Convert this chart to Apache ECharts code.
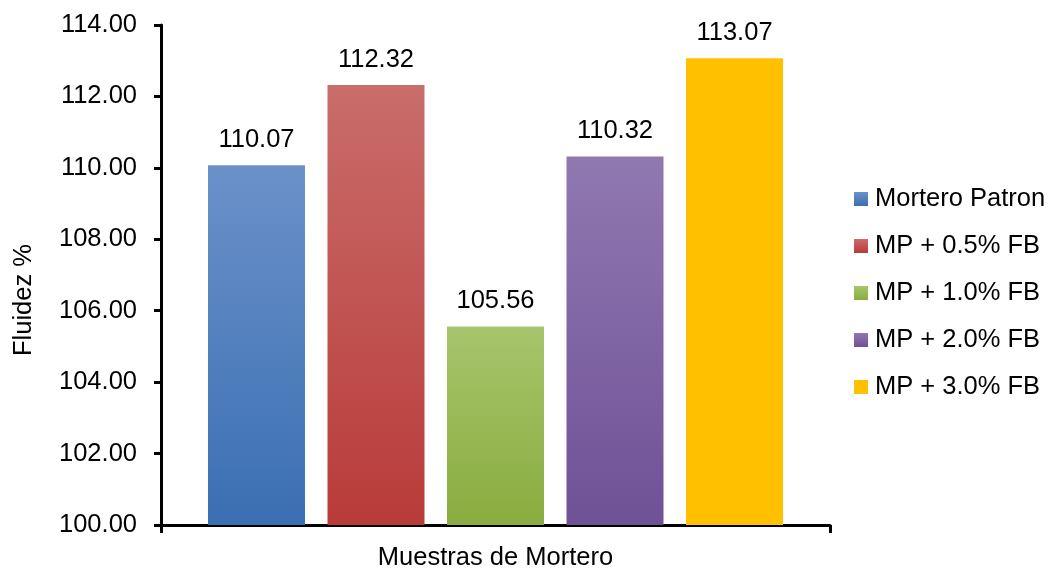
<!DOCTYPE html>
<html><head><meta charset="utf-8">
<script src="https://cdn.jsdelivr.net/npm/echarts@6/dist/echarts.min.js"></script>
<style>html,body{margin:0;padding:0;background:#fff}#c{width:1053px;height:569px}</style>
</head><body><div id="c"></div>
<script>
var categories = [''];
var seriesNames = ['Mortero Patron','MP + 0.5% FB','MP + 1.0% FB','MP + 2.0% FB','MP + 3.0% FB'];
var seriesValues = [110.07, 112.32, 105.56, 110.32, 113.07];
var yTicks = [100,102,104,106,108,110,112,114];
var topColors = ['#6b91c9','#c96d6b','#a7c56c','#9078b1','#ffc000'];
var bottomColors = ['#3a6fb3','#b83b39','#89ac3f','#6f5196','#ffc000'];
var font = 'Liberation Sans, Arial, sans-serif';
var fs = 25.5;
var chart = echarts.init(document.getElementById('c'));
var series = seriesNames.map(function(n,i){
  return {
    name:n, type:'bar', data:[seriesValues[i]], barWidth:97, barGap:'23.2%',
    itemStyle:{color:new echarts.graphic.LinearGradient(0,0,0,1,[{offset:0,color:topColors[i]},{offset:1,color:bottomColors[i]}])},
    label:{show:true, position:'top', distance:12, color:'#000', fontSize:fs, fontFamily:font,
      formatter:function(p){return p.value.toFixed(2);}}
  };
});
chart.setOption({
  animation:false,
  grid:{left:161, right:223, top:25, bottom:44, containLabel:false, outerBoundsMode:'none'},
  legend:{orient:'vertical', left:849, top:181, itemWidth:14, itemHeight:14, itemGap:21,
    icon:'rect', textStyle:{fontSize:fs, fontFamily:font, color:'#000', padding:[0,0,0,2]},
    data:seriesNames},
  xAxis:{type:'category', data:categories, name:'Muestras de Mortero', nameLocation:'middle', nameGap:20,
    nameTextStyle:{fontSize:fs, fontFamily:font, color:'#000'},
    axisLine:{lineStyle:{color:'#000', width:3}}, axisTick:{show:true, length:8, lineStyle:{color:'#000', width:3}},
    axisLabel:{show:false}},
  yAxis:{type:'value', min:100, max:114, interval:2, name:'Fluidez %', nameLocation:'middle', nameGap:124,
    nameTextStyle:{fontSize:fs, fontFamily:font, color:'#000', padding:[0,50,0,0]},
    axisLine:{show:true, lineStyle:{color:'#000', width:3}}, axisTick:{show:true, length:7, lineStyle:{color:'#000', width:3}},
    splitLine:{show:false},
    axisLabel:{fontSize:fs, fontFamily:font, color:'#000', margin:24, formatter:function(v){return v.toFixed(2);}}},
  series:series
});
</script></body></html>
